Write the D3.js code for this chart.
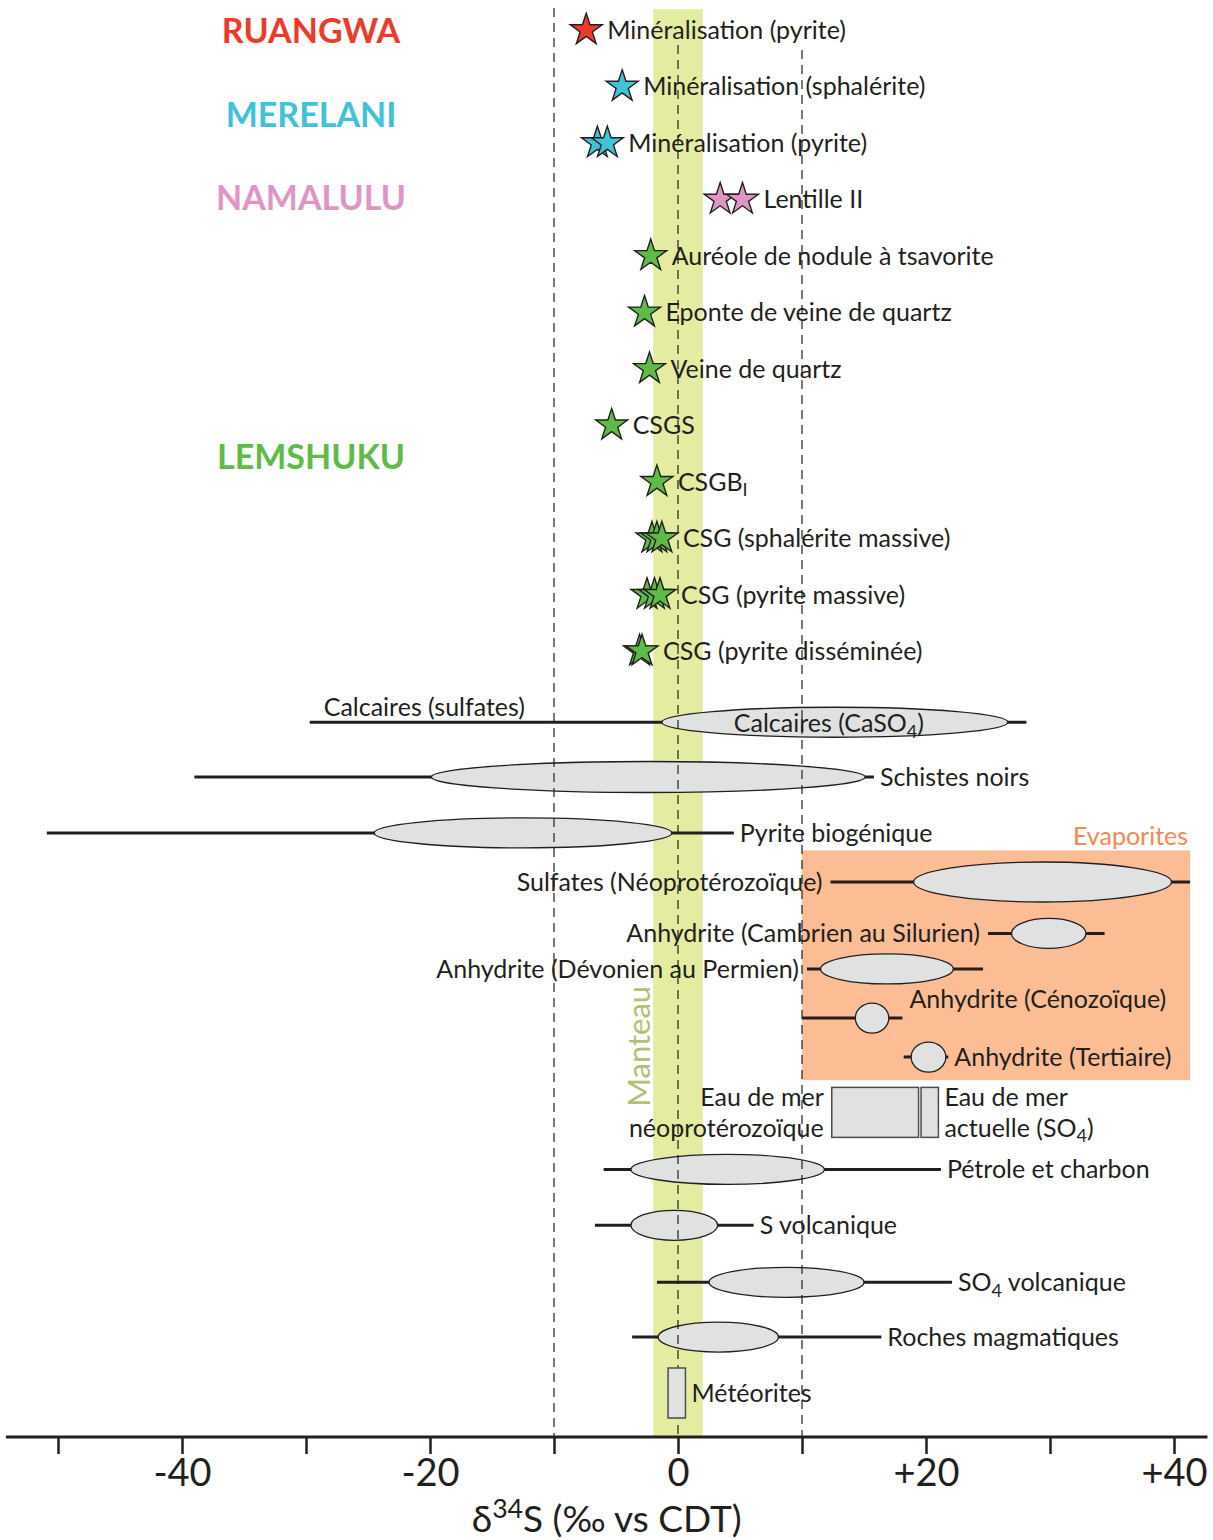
<!DOCTYPE html>
<html><head><meta charset="utf-8">
<script src="https://cdn.jsdelivr.net/npm/d3@7"></script>
<style>body{margin:0;background:#fff} svg{display:block}</style>
</head><body>
<svg id="c" width="1213" height="1540"></svg>
<script>
// ---------------- DATA ----------------
const xTicks = [-50, -40, -30, -20, -10, 0, 10, 20, 30, 40];
const xTickLabels = ["", "-40", "", "-20", "", "0", "", "+20", "", "+40"];
const refLines = [-10, 0, 10];
const mantleRange = [-2, 2];

const groups = ["RUANGWA", "MERELANI", "NAMALULU", "LEMSHUKU"];
const groupColors = ["#ee3a2b", "#41c3d7", "#e096c5", "#5fbb47"];
const groupRows = [0.02, 1.5, 2.98, 7.56];

const starLabels = ["Minéralisation (pyrite)", "Minéralisation (sphalérite)", "Minéralisation (pyrite)",
  "Lentille II", "Auréole de nodule à tsavorite", "Eponte de veine de quartz", "Veine de quartz",
  "CSGS", "CSGB{I}", "CSG (sphalérite massive)", "CSG (pyrite massive)", "CSG (pyrite disséminée)"];
const starGroup = [0, 1, 1, 2, 3, 3, 3, 3, 3, 3, 3, 3];
const starRows = [0, 1, 2, 3, 4, 5, 6, 7, 8, 9, 10, 11];
const starValues = [[-7.4], [-4.5], [-6.5, -5.7], [3.4, 5.2], [-2.2], [-2.7], [-2.3], [-5.35], [-1.7],
  [-2.1, -1.7, -1.3], [-2.5, -1.9, -1.45], [-3.1, -2.9]];

const rangeLabels = ["Calcaires (sulfates)", "Calcaires (CaSO{4})", "Schistes noirs", "Pyrite biogénique",
  "Sulfates (Néoprotérozoïque)", "Anhydrite (Cambrien au Silurien)", "Anhydrite (Dévonien au Permien)",
  "Anhydrite (Cénozoïque)", "Anhydrite (Tertiaire)", "Eau de mer|néoprotérozoïque", "Eau de mer|actuelle (SO{4})",
  "Pétrole et charbon", "S volcanique", "SO{4} volcanique", "Roches magmatiques", "Météorites"];
const rangeRows = [12.26, 12.26, 13.23, 14.22, 15.09, 16.0, 16.63, 17.5, 18.19, 19.17, 19.17, 20.18, 21.17, 22.18, 23.15, 24.14];
const whiskerMin = [-29.7, null, -39.0, -50.9, 12.3, 25.0, 10.4, 10.0, 18.2, null, null, -6.0, -6.7, -1.7, -3.7, null];
const whiskerMax = [28.1, null, 15.8, 4.5, 41.3, 34.4, 24.6, 18.1, 21.8, null, null, 21.2, 6.1, 22.1, 16.4, null];
const boxMin = [null, -1.3, -19.9, -24.5, 19.0, 26.9, 11.5, 14.3, 18.8, 12.4, 19.6, -3.8, -3.8, 2.5, -1.6, -0.8];
const boxMax = [null, 26.6, 15.1, -0.5, 39.8, 32.9, 22.2, 17.0, 21.6, 19.4, 21.0, 11.8, 3.2, 15.0, 8.1, 0.6];
const boxShape = ["none", "ellipse", "ellipse", "ellipse", "ellipse", "ellipse", "ellipse", "ellipse", "ellipse",
  "rect", "rect", "ellipse", "ellipse", "ellipse", "ellipse", "rect"];
const labelSide = ["aboveLeft", "inside", "right", "right", "left", "left", "left", "aboveRight", "right",
  "left", "right", "right", "right", "right", "right", "right"];

const evapLabel = "Evaporites";
const evapX = [10, 41.3];
const evapRows = [14.53, 18.6];
const mantleLabel = "Manteau";
const axisTitle = "δ^{34}S (‰ vs CDT)";

// ---------------- DRAW ----------------
const svg = d3.select("#c");
const FONT = "Lato, 'Open Sans', sans-serif";
const INK = "#231f20";
const x = d3.scaleLinear().domain([-40, 40]).range([182, 1174]);
const y = d3.scaleLinear().domain([0, 24.14]).range([30, 1393]);
const axisY = 1437;

function richText(sel, str, fs) {
  const parts = str.split(/(\^\{[^}]*\}|\{[^}]*\})/).filter(s => s.length);
  let shift = 0;
  parts.forEach(p => {
    let txt = p, target = 0, size = fs;
    if (p.startsWith("^{")) { txt = p.slice(2, -1); target = -0.38 * fs; size = fs * 0.72; }
    else if (p.startsWith("{")) { txt = p.slice(1, -1); target = 0.22 * fs; size = fs * 0.72; }
    sel.append("tspan").attr("dy", target - shift).attr("font-size", size).text(txt);
    shift = target;
  });
}

// Evaporites box
svg.append("rect")
  .attr("x", x(evapX[0])).attr("width", x(evapX[1]) - x(evapX[0]))
  .attr("y", y(evapRows[0])).attr("height", y(evapRows[1]) - y(evapRows[0]))
  .attr("fill", "#fcbd95");
svg.append("text").attr("x", x(evapX[1]) - 2).attr("y", y(evapRows[0]) - 5)
  .attr("text-anchor", "end").attr("font-family", FONT).attr("font-size", 25)
  .attr("fill", "#f5894b").text(evapLabel);

// Mantle band
svg.append("rect")
  .attr("x", x(mantleRange[0])).attr("width", x(mantleRange[1]) - x(mantleRange[0]))
  .attr("y", y(-0.37)).attr("height", axisY - y(-0.37))
  .attr("fill", "#e3eca1");
svg.append("text")
  .attr("transform", `translate(${x(mantleRange[0]) - 3},${y(18.0)}) rotate(-90)`)
  .attr("text-anchor", "middle").attr("font-family", FONT).attr("font-size", 31)
  .attr("fill", "#b6bd74").text(mantleLabel);

const rows = rangeLabels.map((l, i) => ({ label: l, row: rangeRows[i], wmin: whiskerMin[i], wmax: whiskerMax[i],
  bmin: boxMin[i], bmax: boxMax[i], shape: boxShape[i], side: labelSide[i] }));

// Whiskers
svg.append("g").selectAll("line").data(rows.filter(d => d.wmin !== null)).join("line")
  .attr("x1", d => x(d.wmin)).attr("x2", d => x(d.wmax))
  .attr("y1", d => y(d.row)).attr("y2", d => y(d.row))
  .attr("stroke", INK).attr("stroke-width", 3);

// Ellipses
const ellH = d => d.label.startsWith("Sulfates") ? 40 : (d.label.startsWith("Schistes") ? 31 : 30);
svg.append("g").selectAll("ellipse").data(rows.filter(d => d.shape === "ellipse")).join("ellipse")
  .attr("cx", d => (x(d.bmin) + x(d.bmax)) / 2).attr("cy", d => y(d.row))
  .attr("rx", d => (x(d.bmax) - x(d.bmin)) / 2).attr("ry", d => ellH(d) / 2)
  .attr("fill", "#e0e1e1").attr("stroke", INK).attr("stroke-width", 1.3);

// Dashed reference lines
const lineTop = { "-10": 8, "0": 45, "10": 50 };
svg.append("g").selectAll("line").data(refLines).join("line")
  .attr("x1", d => x(d)).attr("x2", d => x(d))
  .attr("y1", d => lineTop[String(d)]).attr("y2", axisY)
  .attr("stroke", INK).attr("stroke-width", 1.2).attr("stroke-dasharray", "9,6");

// Rectangles (on top of reference lines)
svg.append("g").selectAll("rect").data(rows.filter(d => d.shape === "rect")).join("rect")
  .attr("x", d => x(d.bmin)).attr("width", d => x(d.bmax) - x(d.bmin))
  .attr("y", d => y(d.row) - 25).attr("height", 50)
  .attr("fill", "#e0e1e1").attr("stroke", "#4d4d4f").attr("stroke-width", 1.5);

// Stars
const star = d3.symbol(d3.symbolStar, 317);
const starPts = [];
starValues.forEach((vals, i) => vals.forEach(v => starPts.push({ v, row: starRows[i], g: starGroup[i] })));
svg.append("g").selectAll("path").data(starPts).join("path")
  .attr("d", star).attr("transform", d => `translate(${x(d.v)},${y(d.row)})`)
  .attr("fill", d => groupColors[d.g]).attr("stroke", INK).attr("stroke-width", 1.4)
  .attr("stroke-linejoin", "miter");

// Star labels
const FS = 25;
starLabels.forEach((l, i) => {
  const t = svg.append("text").attr("x", x(d3.max(starValues[i])) + 21).attr("y", y(starRows[i]) + 9)
    .attr("font-family", FONT).attr("font-size", FS).attr("fill", INK);
  richText(t, l, FS);
});

// Group labels
groups.forEach((g, i) => {
  svg.append("text").attr("x", 311).attr("y", y(groupRows[i]) + 12)
    .attr("text-anchor", "middle").attr("font-family", FONT).attr("font-weight", 700)
    .attr("font-size", 34).attr("fill", groupColors[i]).text(g);
});

// Range labels
rows.forEach(d => {
  const lines = d.label.split("|");
  const cy = y(d.row);
  let tx, anchor = "start", baseY = cy + 9;
  const left = d.wmin !== null ? x(d.wmin) : x(d.bmin);
  const right = d.wmax !== null ? x(d.wmax) : x(d.bmax);
  if (d.side === "right") { tx = right + 6; }
  else if (d.side === "left") { tx = left - 8; anchor = "end"; }
  else if (d.side === "aboveLeft") { tx = left + 14; baseY = cy - 6; }
  else if (d.side === "aboveRight") { tx = right + 7; baseY = cy - 10; }
  else if (d.side === "inside") { tx = (x(d.bmin) + x(d.bmax)) / 2 - 6; anchor = "middle"; baseY = cy + 10; }
  lines.forEach((ln, k) => {
    const off = lines.length > 1 ? (k - (lines.length - 1) / 2) * 31 : 0;
    const t = svg.append("text").attr("x", tx).attr("y", baseY + off)
      .attr("text-anchor", anchor).attr("font-family", FONT).attr("font-size", FS).attr("fill", INK);
    richText(t, ln, FS);
  });
});

// Axis
const ax = svg.append("g").attr("transform", `translate(0,${axisY})`)
  .call(d3.axisBottom(x).tickValues(xTicks).tickSize(17).tickPadding(5)
    .tickFormat((d, i) => xTickLabels[i]));
ax.select(".domain").remove();
ax.selectAll(".tick line").attr("stroke", INK).attr("stroke-width", 2.5);
ax.selectAll(".tick text").attr("font-family", FONT).attr("font-size", 38).attr("fill", INK);
svg.append("line").attr("x1", x(-54.2)).attr("x2", x(42.7)).attr("y1", axisY).attr("y2", axisY)
  .attr("stroke", INK).attr("stroke-width", 3);

const tt = svg.append("text").attr("x", (x(-54.2) + x(42.7)) / 2).attr("y", 1532)
  .attr("text-anchor", "middle").attr("font-family", FONT).attr("font-size", 37).attr("fill", INK);
richText(tt, axisTitle, 37);
</script>
</body></html>
